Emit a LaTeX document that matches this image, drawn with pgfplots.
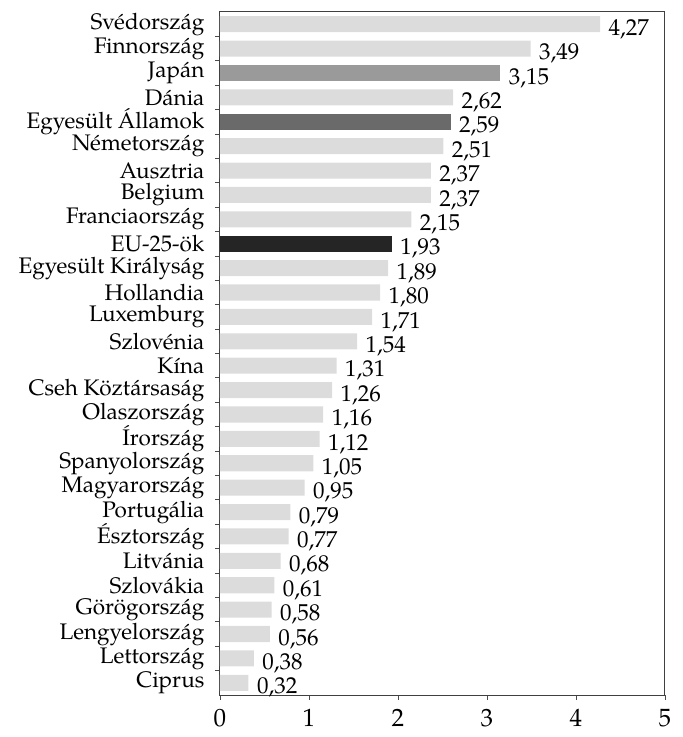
\documentclass[border=0pt]{standalone}
\usepackage{fontspec}
\setmainfont{TeX Gyre Pagella}
\usepackage{pgfplots}
\pgfplotsset{compat=1.18}
\definecolor{lightbar}{HTML}{DCDCDC}
\definecolor{midbar}{HTML}{9A9A9A}
\definecolor{darkbar}{HTML}{6A6A6A}
\definecolor{eubar}{HTML}{252525}
\begin{document}
\begin{tikzpicture}
\begin{axis}[
  scale only axis,
  width=445pt, height=683pt,
  xbar, bar width=0.66, bar shift=0pt,
  xmin=0, xmax=5, ymin=0.5, ymax=28.5,
  xtick={0,1,2,3,4,5},
  ytick={1,...,28},
  yticklabels={Ciprus,Lettország,Lengyelország,Görögország,Szlovákia,Litvánia,Észtország,Portugália,Magyarország,Spanyolország,Írország,Olaszország,Cseh Köztársaság,Kína,Szlovénia,Luxemburg,Hollandia,Egyesült Királyság,EU-25-ök,Franciaország,Belgium,Ausztria,Németország,Egyesült Államok,Dánia,Japán,Finnország,Svédország},
  minor ytick={1.5,2.5,...,27.5},
  major y tick style={draw=none},
  major tick length=5pt,
  minor tick length=5pt,
  tick align=outside,
  xtick pos=bottom, ytick pos=left,
  tick style={black!70, line width=0.8pt},
  axis line style={black!75, line width=1pt},
  /pgf/number format/assume math mode=true,
  yticklabel style={font=\fontsize{22.5}{23}\selectfont, inner ysep=0pt, xshift=-7pt},
  xticklabel style={font=\fontsize{25}{26}\selectfont, yshift=-6pt},
  point meta=x,
  nodes near coords={\pgfmathprintnumber[fixed,fixed zerofill,precision=2,use comma]{\pgfplotspointmeta}},
  every node near coord/.append style={font=\fontsize{23}{24}\selectfont, inner ysep=0pt, anchor=west, xshift=5pt, yshift=-5pt, color=black},
  clip=false,
]
\addplot[draw=none, fill=lightbar] coordinates {
  (0.32,1) (0.38,2) (0.56,3) (0.58,4) (0.61,5) (0.68,6) (0.77,7) (0.79,8)
  (0.95,9) (1.05,10) (1.12,11) (1.16,12) (1.26,13) (1.31,14) (1.54,15)
  (1.71,16) (1.80,17) (1.89,18) (2.15,20) (2.37,21) (2.37,22) (2.51,23)
  (2.62,25) (3.49,27) (4.27,28)
};
\addplot[draw=none, fill=eubar] coordinates {(1.93,19)};
\addplot[draw=none, fill=darkbar] coordinates {(2.59,24)};
\addplot[draw=none, fill=midbar] coordinates {(3.15,26)};
\end{axis}
\pgfresetboundingbox
\path ([shift={(-220pt,-42pt)}]current axis.south west) rectangle ([shift={(18pt,12pt)}]current axis.north east);
\end{tikzpicture}
\end{document}
